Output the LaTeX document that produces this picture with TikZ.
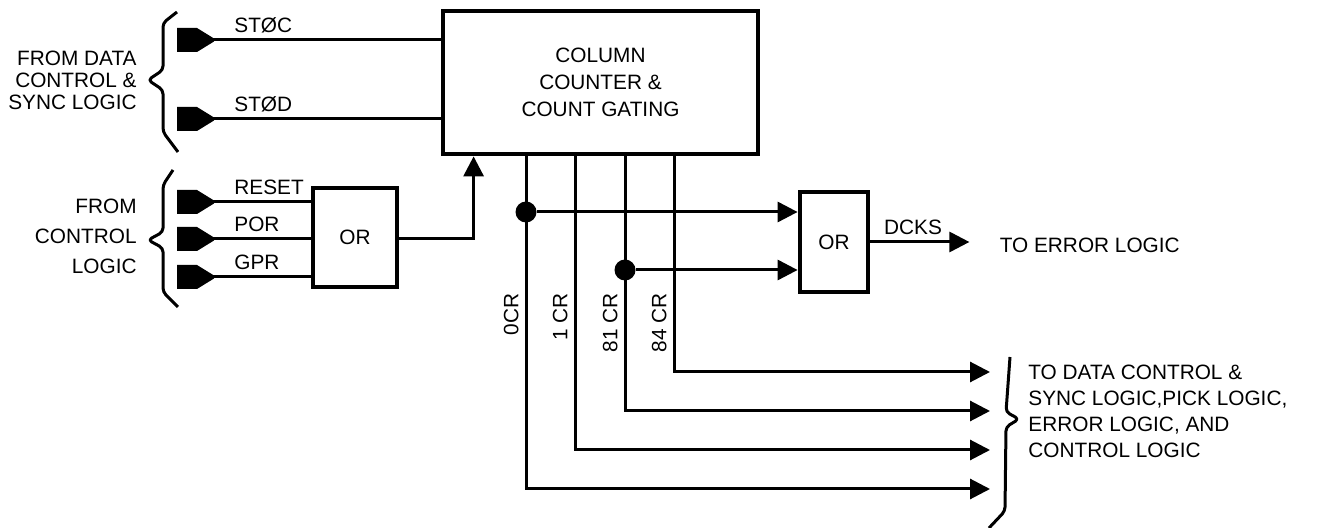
\documentclass[tikz,border=0pt]{standalone}
\usepackage{fontspec}
\setmainfont{Liberation Sans}
\usetikzlibrary{positioning,arrows.meta,calc}
\tikzset{
  wire/.style={line width=1.5pt},
  tip/.style={-{Triangle[length=10pt,width=10pt]}},
  gate/.style={draw, line width=2.4pt, inner sep=0pt, align=center, font=\fontsize{10.4}{13.5}\selectfont},
  sig/.style={inner sep=1pt, font=\fontsize{10.4}{11}\selectfont},
  dot/.style={circle, fill, inner sep=0pt, minimum size=10.5pt},
  brace/.style={line width=1.5pt, line join=round, rounded corners=2pt}
}
\begin{document}
\begin{tikzpicture}[x=0.5pt,y=-0.5pt]
 \useasboundingbox (0,0) rectangle (1333,528);
 \node[gate, minimum width=157.5pt, minimum height=71.5pt] (ccg) at (600.5,82.5) {COLUMN\\COUNTER \&\\COUNT GATING};
 \node[gate, minimum width=42pt, minimum height=49.5pt] (or1) at (355,237.5) {OR};
 \node[gate, minimum width=34pt, minimum height=50pt] (or2) at (834,242) {OR};
 \foreach \n/\y/\t in {stc/40/STØC, std/119/STØD, rst/202/RESET, por/239/POR, gpr/277/GPR} {
   \fill (177,\y-12) -- (197,\y-12) -- (214,\y-1.5) -- (214,\y+1.5) -- (197,\y+12) -- (177,\y+12) -- cycle;
   \coordinate (\n) at (213,\y);
   \node[sig, anchor=west] (l\n) at (232,\y-15) {\t};
 }
 \draw[wire] (stc) -- (stc -| ccg.west);
 \draw[wire] (std) -- (std -| ccg.west);
 \foreach \n in {rst,por,gpr} \draw[wire] (\n) -- (\n -| or1.west);
 \coordinate (rstin) at ($(ccg.south west)+(33,0)$);
 \draw[wire,tip] (por -| or1.east) -| (rstin);
 \foreach \n/\x/\y in {c0/526/489, c1/575/450, c81/625/411, c84/674/372} {
   \coordinate (\n) at (\x,154);
   \coordinate (o\n) at (990,\y);
   \draw[wire,tip] (\n) |- (o\n);
 }
 \foreach \n/\t in {c0/0CR, c1/1 CR, c81/81 CR, c84/84 CR}
   \node[sig, rotate=90, anchor=south east] (l\n) at ($(\n)+(-5,137)$) {\t};
 \node[dot] (j0) at (526,212) {};
 \node[dot] (j81) at (625,270) {};
 \draw[wire,tip] (j0) -- (j0 -| or2.west);
 \draw[wire,tip] (j81) -- (j81 -| or2.west);
 \draw[wire,tip] (or2.east) -- ++(99,0) coordinate (dcks);
 \node[sig] (ldcks) at (913,227) {DCKS};
 \node[sig, right=14pt of dcks, yshift=-1.5pt] (toerr) {TO ERROR LOGIC};
 \draw[brace] (177,12) -- (163,23) -- (163,70) -- (148,80) -- (163,90) -- (163,132) -- (178,152);
 \draw[brace] (173,170) -- (163,185) -- (163,232) -- (148,240) -- (163,248) -- (163,292) -- (178,307);
 \draw[brace] (1010,357) -- (1006,412) -- (1019,419) -- (1006,427) -- (1005,511) -- (989,528);
 \node[sig, align=right, anchor=east] (fdata) at (139,80) {FROM DATA\\CONTROL \&\\SYNC LOGIC};
 \node[sig, align=right, anchor=east, font=\fontsize{10.4}{15}\selectfont] (fctrl) at (139,236) {FROM\\CONTROL\\LOGIC};
 \node[sig, align=left, anchor=west, font=\fontsize{10.4}{13}\selectfont] (todata) at (1026,411) {TO DATA CONTROL \&\\SYNC LOGIC,PICK LOGIC,\\ERROR LOGIC, AND\\CONTROL LOGIC};
\end{tikzpicture}
\end{document}
